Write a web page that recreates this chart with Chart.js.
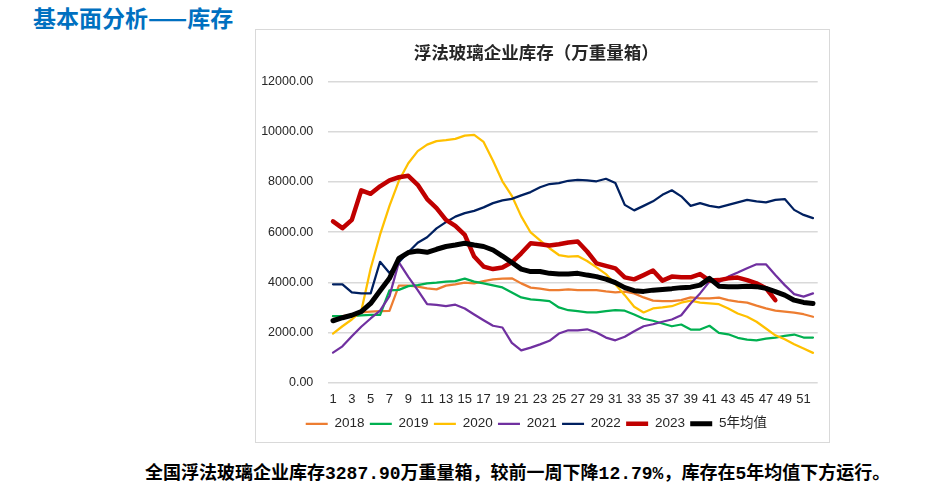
<!DOCTYPE html>
<html>
<head>
<meta charset="utf-8">
<script src="https://cdn.jsdelivr.net/npm/chart.js@4.4.1/dist/chart.umd.min.js"></script>
<style>
  body { margin: 0; background: #fff; width: 942px; height: 490px; position: relative; overflow: hidden; }
  #heading { position: absolute; left: 33px; top: 2px; font: bold 23px "Noto Sans CJK SC"; color: #0070C0; line-height: 30px; white-space: nowrap; }
  #box { position: absolute; left: 255px; top: 29px; width: 575px; height: 414px; border: 1px solid #d9d9d9; box-sizing: border-box; }
  #chart { position: absolute; left: 255px; top: 29px; }
  #note { position: absolute; left: 145px; top: 462px; font: bold 18px "Liberation Mono", "Noto Sans CJK SC"; line-height: 24px; color: #000; white-space: nowrap; }
</style>
</head>
<body>
<div id="heading">基本面分析——库存</div>
<div id="box"></div>
<canvas id="chart" width="575" height="414"></canvas>
<div id="note">全国浮法玻璃企业库存3287.90万重量箱，较前一周下降12.79%，库存在5年均值下方运行。</div>
<script>
// settimane
var weeks = ['1','2','3','4','5','6','7','8','9','10','11','12','13','14','15','16','17','18','19','20',
  '21','22','23','24','25','26','27','28','29','30','31','32','33','34','35','36','37','38','39','40',
  '41','42','43','44','45','46','47','48','49','50','51','52'];

// serie (万重量箱)
var y2018 = [2650,2650,2700,2800,2830,2850,2860,3870,3870,3830,3760,3720,3870,3920,3990,3960,4050,4120,4150,4160,
  3960,3790,3750,3690,3690,3720,3690,3690,3690,3640,3600,3630,3560,3400,3270,3250,3250,3290,3400,3360,
  3360,3390,3290,3230,3190,3070,2960,2870,2830,2790,2730,2630];
var y2019 = [2650,2650,2650,2680,2700,2700,3680,3700,3850,3890,3960,3990,4030,4050,4150,4030,3960,3880,3800,3600,
  3400,3320,3290,3250,3000,2890,2850,2800,2800,2850,2890,2870,2720,2550,2470,2360,2250,2320,2120,2120,
  2270,1990,1930,1790,1720,1690,1760,1800,1870,1920,1800,1800];
var y2020 = [1960,2250,2520,2850,4550,5900,7050,8050,8750,9230,9490,9630,9670,9720,9850,9880,9600,8850,8030,7450,
  6630,5990,5670,5360,5090,5030,5050,4850,4600,4330,3920,3490,3030,2800,2960,3000,3050,3190,3270,3190,
  3160,3130,2960,2760,2630,2430,2160,1890,1730,1530,1360,1190];
var y2021 = [1200,1450,1850,2230,2560,2870,3450,4800,4220,3690,3130,3100,3050,3110,2960,2720,2490,2270,2200,1590,
  1290,1400,1530,1670,1960,2090,2090,2130,2000,1800,1690,1830,2050,2250,2330,2430,2520,2690,3160,3560,
  4030,4000,4230,4390,4560,4720,4720,4290,3890,3530,3430,3560];
var y2022 = [3920,3920,3600,3560,3560,4820,4370,4800,5200,5580,5800,6150,6400,6620,6760,6850,6990,7160,7270,7330,
  7470,7600,7790,7920,7960,8050,8090,8070,8030,8130,7960,7090,6870,7050,7230,7490,7670,7430,7050,7160,
  7050,6990,7090,7190,7290,7230,7190,7290,7320,6890,6690,6560];
var y2023 = [6430,6160,6490,7670,7530,7830,8070,8190,8250,7890,7320,6960,6490,6250,5890,5030,4630,4530,4590,4800,
  5160,5560,5520,5470,5520,5590,5630,5230,4760,4660,4560,4200,4120,4290,4470,4070,4230,4200,4200,4330,
  4070,4090,4160,4190,4090,3960,3770,3287.9];
var avg5 = [2470,2590,2690,2830,3160,3670,4160,4960,5190,5250,5200,5320,5430,5490,5560,5490,5430,5290,5050,4790,
  4530,4430,4430,4360,4330,4330,4360,4290,4230,4130,3990,3790,3670,3640,3690,3720,3750,3790,3810,3890,
  4160,3850,3830,3830,3850,3830,3760,3630,3490,3290,3200,3160];

var yTicks = [0, 2000, 4000, 6000, 8000, 10000, 12000];

Chart.defaults.font.family = '"Liberation Sans", "Noto Sans CJK SC", sans-serif';

// dataset linea
function serie(label, data, color, width, order) {
  return {
    label: label,
    data: data,
    borderColor: color,
    backgroundColor: color,
    borderWidth: width,
    pointRadius: 0,
    pointHoverRadius: 0,
    tension: 0,
    borderJoinStyle: 'round',
    borderCapStyle: 'round',
    fill: false,
    order: order
  };
}

var ctx = document.getElementById('chart');
var myChart = new Chart(ctx, {
  type: 'line',
  data: {
    labels: weeks,
    datasets: [
      serie('2018', y2018, '#ED7D31', 2.25, 7),
      serie('2019', y2019, '#00B050', 2.25, 6),
      serie('2020', y2020, '#FFC000', 2.25, 5),
      serie('2021', y2021, '#7030A0', 2.25, 4),
      serie('2022', y2022, '#002060', 2.25, 3),
      serie('2023', y2023, '#C00000', 4.5, 2),
      serie('5年均值', avg5, '#000000', 5, 1)
    ]
  },
  options: {
    responsive: false,
    animation: false,
    events: [],
    layout: { padding: { left: 0, right: 12.3, top: 0, bottom: 2.5 } },
    plugins: {
      title: {
        display: true,
        text: '浮法玻璃企业库存（万重量箱）',
        color: '#262626',
        font: { size: 17.5, weight: 'bold', family: '"Noto Sans CJK SC", sans-serif' },
        padding: { top: 12.5, bottom: 19.2 }
      },
      legend: {
        position: 'bottom',
        labels: {
          usePointStyle: true,
          pointStyle: 'line',
          pointStyleWidth: 22,
          padding: 5.3,
          color: '#262626',
          font: { size: 13.5 },
          sort: function(a, b) { return a.datasetIndex - b.datasetIndex; }
        }
      },
      tooltip: { enabled: false }
    },
    scales: {
      x: {
        offset: true,
        grid: { display: false, drawTicks: false },
        border: { display: false },
        ticks: {
          autoSkip: false,
          maxRotation: 0,
          padding: 9,
          color: '#262626',
          font: { size: 13 },
          callback: function(value, index) {
            return index % 2 === 0 ? this.getLabelForValue(value) : '';
          }
        },
        afterFit: function(scale) { scale.height = 29; }
      },
      y: {
        min: yTicks[0],
        max: yTicks[yTicks.length - 1],
        grid: { color: '#d9d9d9', lineWidth: 1.5, drawTicks: false },
        border: { display: false },
        afterBuildTicks: function(scale) {
          scale.ticks = yTicks.map(function(v) { return { value: v }; });
        },
        ticks: {
          padding: 15,
          color: '#262626',
          font: { size: 12.5 },
          callback: function(value) { return value.toFixed(2); }
        },
        afterFit: function(scale) { scale.width = 73.3; }
      }
    }
  }
});
</script>
</body>
</html>
